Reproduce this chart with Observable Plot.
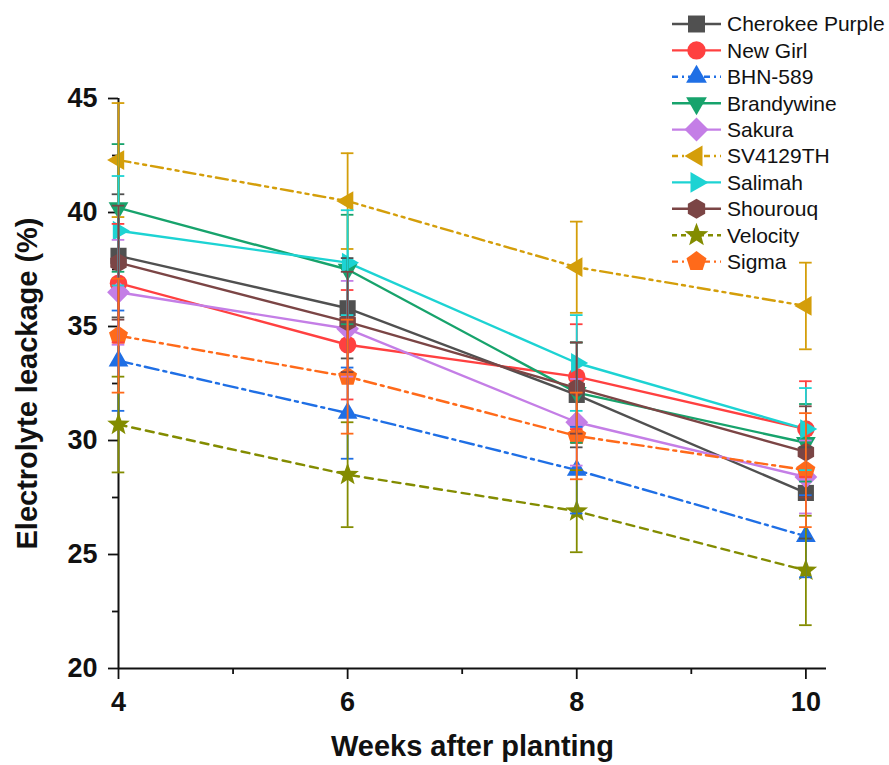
<!DOCTYPE html>
<html>
<head>
<meta charset="utf-8">
<script src="https://cdn.jsdelivr.net/npm/d3@7"></script>
<script src="https://cdn.jsdelivr.net/npm/@observablehq/plot@0.6"></script>
<style>
  html, body { margin: 0; padding: 0; background: #fff; }
  #chart { position: relative; width: 889px; height: 765px; }
</style>
</head>
<body>
<div id="chart"></div>
<script>
// ---------- data ----------
const weeks = [4, 6, 8, 10];
const cultivars = ["Cherokee Purple", "New Girl", "BHN-589", "Brandywine", "Sakura",
                   "SV4129TH", "Salimah", "Shourouq", "Velocity", "Sigma"];
const cherokeePurple = [38.1, 35.8, 32.0, 27.7];
const newGirl        = [36.9, 34.2, 32.8, 30.5];
const bhn589         = [33.5, 31.2, 28.7, 25.8];
const brandywine     = [40.2, 37.5, 32.1, 29.9];
const sakura         = [36.5, 34.9, 30.8, 28.4];
const sv4129th       = [42.3, 40.5, 37.6, 35.9];
const salimah        = [39.2, 37.8, 33.4, 30.5];
const shourouq       = [37.8, 35.2, 32.3, 29.5];
const velocity       = [30.7, 28.5, 26.9, 24.3];
const sigma          = [34.6, 32.8, 30.2, 28.7];
const meanValues = [cherokeePurple, newGirl, bhn589, brandywine, sakura,
                    sv4129th, salimah, shourouq, velocity, sigma];
// standard errors (±)
const errCherokeePurple = [2.7, 2.2, 2.3, 2.0];
const errNewGirl        = [2.6, 2.4, 2.3, 2.1];
const errBhn589         = [2.2, 2.0, 1.9, 1.8];
const errBrandywine     = [2.8, 2.4, 2.2, 1.7];
const errSakura         = [2.3, 2.1, 1.9, 1.6];
const errSv4129th       = [2.5, 2.1, 2.0, 1.9];
const errSalimah        = [2.4, 2.3, 2.1, 1.8];
const errShourouq       = [2.5, 2.2, 2.0, 2.0];
const errVelocity       = [2.1, 2.3, 1.8, 2.4];
const errSigma          = [2.5, 2.5, 1.9, 2.5];
const errValues = [errCherokeePurple, errNewGirl, errBhn589, errBrandywine, errSakura,
                   errSv4129th, errSalimah, errShourouq, errVelocity, errSigma];
const yTicks = [20, 25, 30, 35, 40, 45];
const yMinorTicks = [22.5, 27.5, 32.5, 37.5, 42.5];
const xTicks = [4, 6, 8, 10];
const xMinorTicks = [5, 7, 9];

// ---------- styles ----------
const colors  = ["#505050", "#ff4040", "#1f6fe5", "#17a36c", "#c47ee6",
                 "#d49e0a", "#1dd3d3", "#7b4545", "#838c00", "#ff6a1a"];
const dashes  = [null, null, "14,5,3,5", null, null,
                 "12,5,3,5,3,5", null, null, "8,6", "12,5,3,5"];
const legendDashes = [null, null, "6,4,2,4", null, null,
                      "6,4,2,4", null, null, "5,4", "6,4,2,4"];

function poly(n, rotDeg, k) {
  return { draw(ctx, size) {
    const R = Math.sqrt(size / Math.PI) * k;
    for (let i = 0; i < n; i++) {
      const a = (rotDeg + i * 360 / n) * Math.PI / 180;
      const px = R * Math.cos(a), py = R * Math.sin(a);
      if (i === 0) ctx.moveTo(px, py); else ctx.lineTo(px, py);
    }
    ctx.closePath();
  }};
}
const circleSym = { draw(ctx, size) { const R = Math.sqrt(size / Math.PI) * 0.92; ctx.moveTo(R, 0); ctx.arc(0, 0, R, 0, 2 * Math.PI); } };
const starSym = { draw(ctx, size) {
  const R = Math.sqrt(size / Math.PI) * 1.25, r = R * 0.42;
  for (let i = 0; i < 10; i++) {
    const a = (-90 + i * 36) * Math.PI / 180, rr = i % 2 ? r : R;
    const px = rr * Math.cos(a), py = rr * Math.sin(a);
    if (i === 0) ctx.moveTo(px, py); else ctx.lineTo(px, py);
  }
  ctx.closePath();
}};
const symbols = [poly(4, 45, 1.2), circleSym, poly(3, -90, 1.2), poly(3, 90, 1.2), poly(4, -90, 1.2),
                 poly(3, 180, 1.2), poly(3, 0, 1.2), poly(6, -90, 1.0), starSym, poly(5, -90, 1.05)];

// ---------- table ----------
const rows = [];
cultivars.forEach((c, i) => weeks.forEach((w, j) => rows.push({
  cultivar: c, idx: i, week: w, value: meanValues[i][j], err: errValues[i][j]
})));

const font = "'Liberation Sans', Arial, Helvetica, sans-serif";
const marks = [];
cultivars.forEach((c, i) => {
  const d = rows.filter(r => r.idx === i);
  marks.push(Plot.line(d, { x: "week", y: "value", stroke: colors[i], strokeWidth: 2.4,
    strokeDasharray: dashes[i] || undefined }));
});
cultivars.forEach((c, i) => {
  const d = rows.filter(r => r.idx === i);
  marks.push(Plot.dot(d, { x: "week", y: "value", r: 9.5, symbol: symbols[i], fill: colors[i], stroke: "none" }));
});
cultivars.forEach((c, i) => {
  const d = rows.filter(r => r.idx === i);
  marks.push(Plot.ruleX(d, { x: "week", y1: r => r.value - r.err, y2: r => r.value + r.err, stroke: colors[i], strokeWidth: 1.8 }));
  marks.push(Plot.ruleY(d, { y: r => r.value + r.err, x1: r => r.week - 0.055, x2: r => r.week + 0.055, stroke: colors[i], strokeWidth: 1.8 }));
  marks.push(Plot.ruleY(d, { y: r => r.value - r.err, x1: r => r.week - 0.055, x2: r => r.week + 0.055, stroke: colors[i], strokeWidth: 1.8 }));
});

const plot = Plot.plot({
  width: 889, height: 765,
  marginLeft: 118, marginRight: 63, marginTop: 98, marginBottom: 97,
  x: { domain: [4, 10.18] },
  y: { domain: [20, 45] },
  style: { fontFamily: font, background: "white", color: "#111", overflow: "visible" },
  marks: [
    Plot.ruleY([20], { stroke: "#111", strokeWidth: 2 }),
    Plot.ruleX([4], { y1: 20, y2: 45, stroke: "#111", strokeWidth: 2 }),
    Plot.axisX({ ticks: xTicks, tickSize: 11, tickPadding: 12, fontSize: 27, fontWeight: "bold", tickFormat: d3.format("d"), label: null, stroke: "#111", strokeWidth: 1.8 }),
    Plot.axisX({ ticks: xMinorTicks, tickSize: 6, tickFormat: () => "", label: null, stroke: "#111", strokeWidth: 1.8 }),
    Plot.axisY({ ticks: yTicks, tickSize: 10, tickPadding: 11, fontSize: 27, fontWeight: "bold", tickFormat: d3.format("d"), label: null, stroke: "#111", strokeWidth: 1.8 }),
    Plot.axisY({ ticks: yMinorTicks, tickSize: 6, tickFormat: () => "", label: null, stroke: "#111", strokeWidth: 1.8 }),
    Plot.text(["Weeks after planting"], { frameAnchor: "bottom", dy: 78, textAnchor: "middle", lineAnchor: "middle", fontSize: 29, fontWeight: "bold", fill: "#111" }),
    Plot.text(["Electrolyte leackage (%)"], { frameAnchor: "left", rotate: -90, dx: -91, textAnchor: "middle", lineAnchor: "middle", fontSize: 29, fontWeight: "bold", fill: "#111" }),
    ...marks
  ]
});
const chart = document.getElementById("chart");
chart.append(plot);

// ---------- legend ----------
const leg = d3.create("svg")
  .attr("width", 249).attr("height", 280)
  .style("position", "absolute").style("left", "640px").style("top", "0px")
  .style("overflow", "visible");
cultivars.forEach((c, i) => {
  const cy = 24 + i * 26.4;
  const g = leg.append("g");
  g.append("line").attr("x1", 32).attr("x2", 81).attr("y1", cy).attr("y2", cy)
    .attr("stroke", colors[i]).attr("stroke-width", 2.4)
    .attr("stroke-dasharray", legendDashes[i]);
  g.append("path").attr("transform", `translate(56.5,${cy})`)
    .attr("d", d3.symbol().type(symbols[i]).size(Math.PI * 10 * 10)())
    .attr("fill", colors[i]);
  g.append("text").attr("x", 87).attr("y", cy).attr("dy", "0.35em")
    .attr("font-family", font).attr("font-size", 21).attr("fill", "#111").text(c);
});
chart.append(leg.node());
</script>
</body>
</html>
